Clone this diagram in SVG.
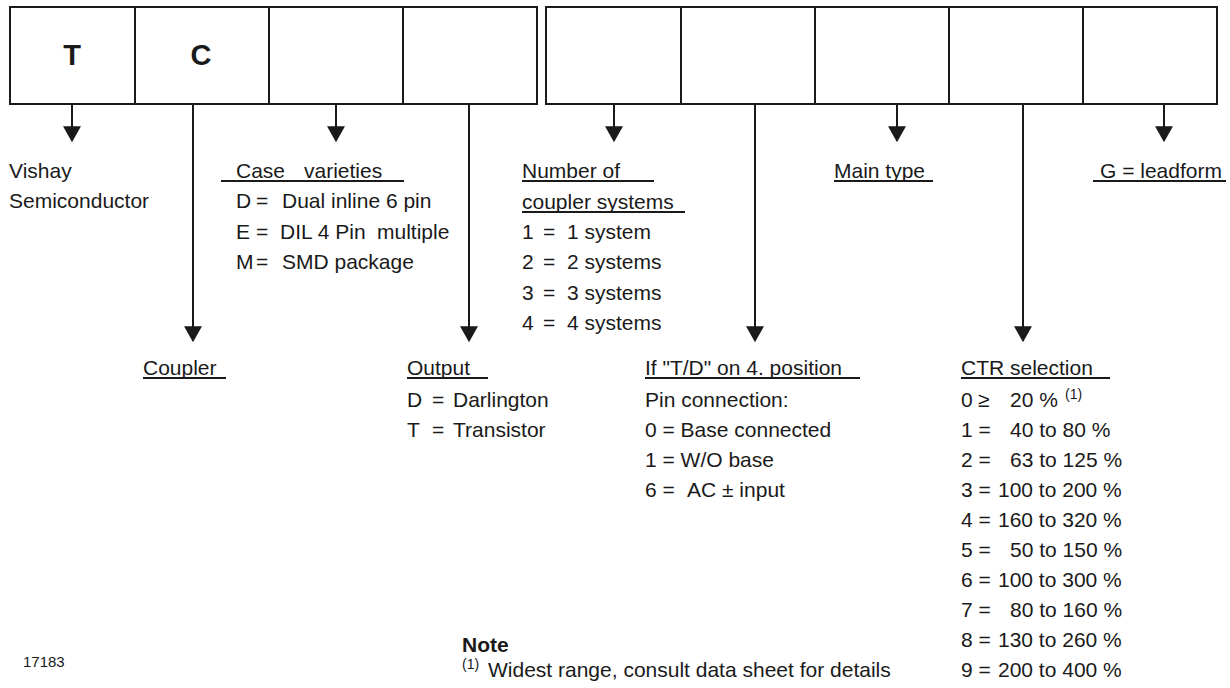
<svg xmlns="http://www.w3.org/2000/svg" width="1230" height="688" viewBox="0 0 1230 688">
<style>
.bg{fill:#ffffff}
.cell{fill:#ffffff;stroke:#1a1a1a;stroke-width:2}
.big{font-family:"Liberation Sans",Arial,Helvetica,sans-serif;font-size:29px;font-weight:bold;fill:#1a1a1a;text-anchor:middle}
.t{font-family:"Liberation Sans",Arial,Helvetica,sans-serif;font-size:21px;fill:#1a1a1a}
.b{font-weight:bold}
.sup{font-size:14px}
.small{font-family:"Liberation Sans",Arial,Helvetica,sans-serif;font-size:15px;fill:#1a1a1a}
.ul{stroke:#1a1a1a;stroke-width:2}
.conn{stroke:#1a1a1a;stroke-width:2;fill:none}
</style>
<defs>
<marker id="ah" markerUnits="userSpaceOnUse" markerWidth="16" markerHeight="18" viewBox="0 0 15 17" refX="12" refY="8.5" orient="auto">
<path d="M0,0 L15,8.5 L0,17 z" fill="#1a1a1a"/>
</marker>
</defs>
<rect class="bg" x="0" y="0" width="1230" height="688"/>

<g id="cell1"><rect class="cell" x="10" y="7" width="125" height="97"/><text class="big" x="72" y="65">T</text></g>
<g id="cell2"><rect class="cell" x="135" y="7" width="134" height="97"/><text class="big" x="201" y="65">C</text></g>
<g id="cell3"><rect class="cell" x="269" y="7" width="134" height="97"/></g>
<g id="cell4"><rect class="cell" x="403" y="7" width="134" height="97"/></g>
<g id="cell5"><rect class="cell" x="546" y="7" width="135" height="97"/></g>
<g id="cell6"><rect class="cell" x="681" y="7" width="134" height="97"/></g>
<g id="cell7"><rect class="cell" x="815" y="7" width="134" height="97"/></g>
<g id="cell8"><rect class="cell" x="949" y="7" width="134" height="97"/></g>
<g id="cell9"><rect class="cell" x="1083" y="7" width="134" height="97"/></g>

<g id="connectors">
<line class="conn" x1="72" y1="104" x2="72" y2="139" marker-end="url(#ah)"/>
<line class="conn" x1="193" y1="104" x2="193" y2="339" marker-end="url(#ah)"/>
<line class="conn" x1="336" y1="104" x2="336" y2="139" marker-end="url(#ah)"/>
<line class="conn" x1="469" y1="104" x2="469" y2="339" marker-end="url(#ah)"/>
<line class="conn" x1="614" y1="104" x2="614" y2="139" marker-end="url(#ah)"/>
<line class="conn" x1="755" y1="104" x2="755" y2="339" marker-end="url(#ah)"/>
<line class="conn" x1="897" y1="104" x2="897" y2="139" marker-end="url(#ah)"/>
<line class="conn" x1="1023" y1="104" x2="1023" y2="339" marker-end="url(#ah)"/>
<line class="conn" x1="1164" y1="104" x2="1164" y2="139" marker-end="url(#ah)"/>
</g>

<g id="vishay">
<text class="t" x="9" y="178">Vishay</text>
<text class="t" x="9" y="208">Semiconductor</text>
</g>

<g id="case">
<text class="t" x="236" y="178">Case<tspan x="304">varieties</tspan></text>
<line class="ul" x1="221" y1="181" x2="404" y2="181"/>
<text class="t" x="236" y="208">D<tspan x="256">=</tspan><tspan x="282">Dual inline 6 pin</tspan></text>
<text class="t" x="236" y="239">E<tspan x="256">=</tspan><tspan x="280">DIL 4 Pin</tspan><tspan x="377">multiple</tspan></text>
<text class="t" x="236" y="269">M<tspan x="256">=</tspan><tspan x="282">SMD package</tspan></text>
</g>

<g id="number">
<text class="t" x="522" y="178">Number of</text>
<line class="ul" x1="522" y1="181" x2="654" y2="181"/>
<text class="t" x="522" y="209">coupler systems</text>
<line class="ul" x1="522" y1="212" x2="685" y2="212"/>
<text class="t" x="522" y="239">1<tspan x="543">=</tspan><tspan x="567">1 system</tspan></text>
<text class="t" x="522" y="269">2<tspan x="543">=</tspan><tspan x="567">2 systems</tspan></text>
<text class="t" x="522" y="300">3<tspan x="543">=</tspan><tspan x="567">3 systems</tspan></text>
<text class="t" x="522" y="330">4<tspan x="543">=</tspan><tspan x="567">4 systems</tspan></text>
</g>

<g id="maintype">
<text class="t" x="834" y="178">Main type</text>
<line class="ul" x1="834" y1="181" x2="933" y2="181"/>
</g>

<g id="leadform">
<text class="t" x="1100" y="178">G = leadform</text>
<line class="ul" x1="1093" y1="181" x2="1226" y2="181"/>
</g>

<g id="coupler">
<text class="t" x="143" y="375">Coupler</text>
<line class="ul" x1="143" y1="378" x2="226" y2="378"/>
</g>

<g id="output">
<text class="t" x="407" y="375">Output</text>
<line class="ul" x1="407" y1="378" x2="488" y2="378"/>
<text class="t" x="407" y="407">D<tspan x="432">=</tspan><tspan x="453">Darlington</tspan></text>
<text class="t" x="407" y="437">T<tspan x="432">=</tspan><tspan x="453">Transistor</tspan></text>
</g>

<g id="pinconn">
<text class="t" x="645" y="375">If "T/D" on 4. position</text>
<line class="ul" x1="645" y1="378" x2="860" y2="378"/>
<text class="t" x="645" y="407">Pin connection:</text>
<text class="t" x="645" y="437">0 = Base connected</text>
<text class="t" x="645" y="467">1 = W/O base</text>
<text class="t" x="645" y="497">6 =<tspan x="687">AC ± input</tspan></text>
</g>

<g id="ctr">
<text class="t" x="961" y="375">CTR selection</text>
<line class="ul" x1="961" y1="378" x2="1110" y2="378"/>
<text class="t" x="961" y="407">0<tspan x="978">≥</tspan><tspan x="1010">20 %</tspan><tspan class="sup" x="1065" y="399">(1)</tspan></text>
<text class="t" x="961" y="437">1 =<tspan x="1010">40 to 80 %</tspan></text>
<text class="t" x="961" y="467">2 =<tspan x="1010">63 to 125 %</tspan></text>
<text class="t" x="961" y="497">3 =<tspan x="998">100 to 200 %</tspan></text>
<text class="t" x="961" y="527">4 =<tspan x="998">160 to 320 %</tspan></text>
<text class="t" x="961" y="557">5 =<tspan x="1010">50 to 150 %</tspan></text>
<text class="t" x="961" y="587">6 =<tspan x="998">100 to 300 %</tspan></text>
<text class="t" x="961" y="617">7 =<tspan x="1010">80 to 160 %</tspan></text>
<text class="t" x="961" y="647">8 =<tspan x="998">130 to 260 %</tspan></text>
<text class="t" x="961" y="677">9 =<tspan x="998">200 to 400 %</tspan></text>
</g>

<g id="note">
<text class="t b" x="462" y="652">Note</text>
<text class="t" x="462" y="677"><tspan class="sup" y="669">(1)</tspan><tspan x="488" y="677">Widest range, consult data sheet for details</tspan></text>
</g>

<g id="figid">
<text class="small" x="23" y="667">17183</text>
</g>
</svg>
